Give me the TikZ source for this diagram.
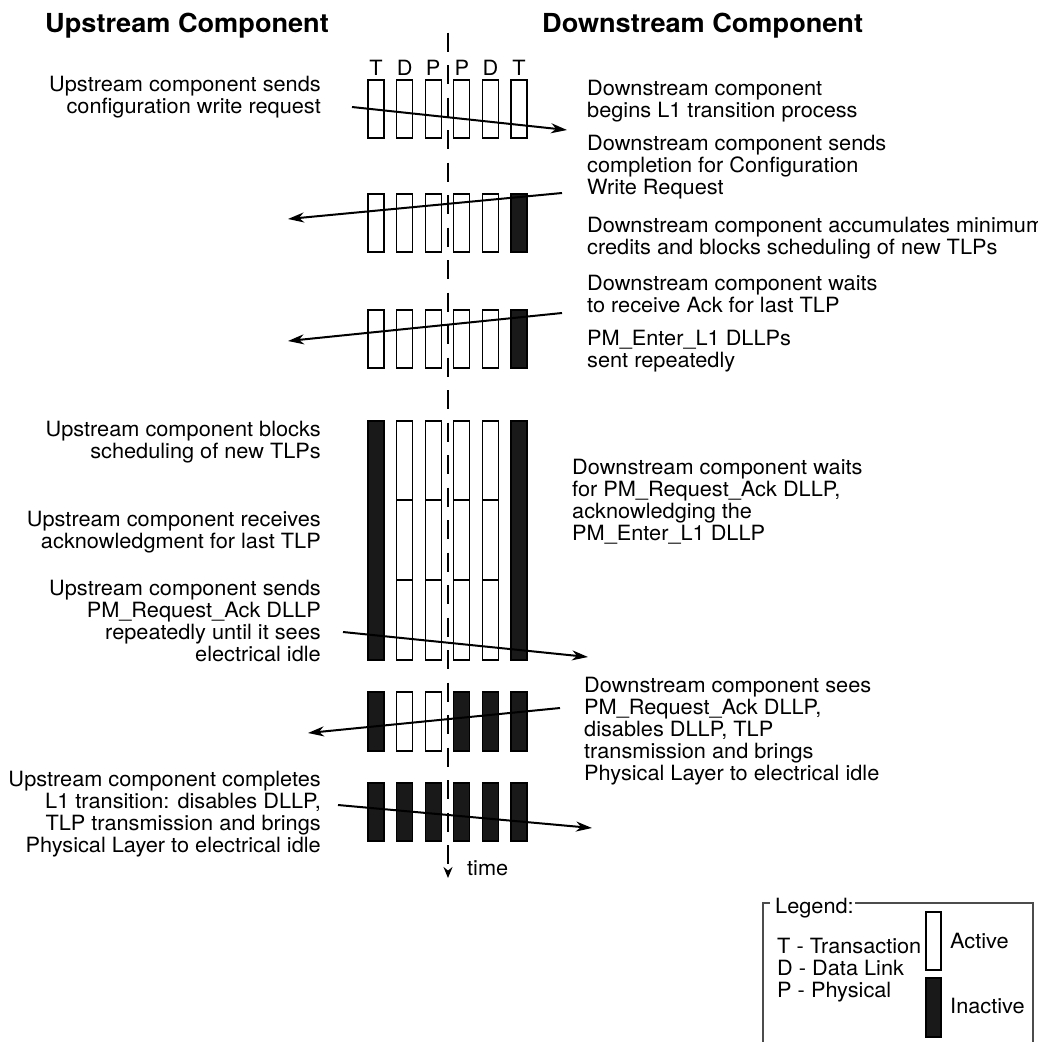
\documentclass[tikz,border=0pt]{standalone}
\usepackage{fontspec}
\setmainfont{TeX Gyre Heros}[FakeStretch=1.035]
\usepackage{tikz}
\usetikzlibrary{arrows.meta}

\tikzset{
  note/.style={font=\fontsize{21}{22}\selectfont, inner sep=0pt},
  lnote/.style={note, anchor=north east, align=right},
  rnote/.style={note, anchor=north west, align=left},
  head/.style={font=\fontsize{26.2}{30}\selectfont\bfseries, inner sep=0pt, anchor=north west},
  on/.style={draw, fill=white, line width=1.2pt},
  off/.style={draw, fill=black!90, line width=1.2pt},
  msg/.style={line width=2pt, -{Stealth[length=16pt,width=10pt,inset=5pt]}},
  frame/.style={line width=1.1pt, black!70},
}

\begin{document}
\begin{tikzpicture}[x=1pt,y=-1pt]
\useasboundingbox (0,0) rectangle (1038,1042);

%% Headings
\node[head] (uphead) at (45,13) {Upstream Component};
\node[head] (dnhead) at (542,13) {Downstream Component};

%% Layer letters
\foreach \i/\lbl in {0/T,1/D,2/P,3/P,4/D,5/T}
  \node[note, anchor=base] (lay\i) at ({376+28.6*\i},75) {\lbl};

%% Time axis
\coordinate (t0) at (448,32.5);
\coordinate (t1) at (448,878);
\draw[line width=2pt, dash pattern=on 19pt off 13.5pt,
      -{Stealth[length=11pt,width=9pt]}] (t0) -- (t1);
\node[note, anchor=base west] (time) at (467,875) {time};

%% Layer bars, all drawn active first
\foreach \top/\bot in {80/138,194/252,310/368,421/660,692/751,783/841}
  \foreach \i in {0,...,5}
    \draw[on] ({368+28.6*\i},\top) rectangle ({384+28.6*\i},\bot);

%% Inactive layers
\foreach \top/\bot/\i in {194/252/5, 310/368/5,
                          421/660/0, 421/660/5,
                          692/751/0, 692/751/3, 692/751/4, 692/751/5,
                          783/841/0, 783/841/1, 783/841/2,
                          783/841/3, 783/841/4, 783/841/5}
  \draw[off] ({368+28.6*\i},\top) rectangle ({384+28.6*\i},\bot);

%% Dividers in the long wait
\foreach \i in {1,...,4}
  \foreach \y in {500,580}
    \draw[line width=1.2pt] ({368+28.6*\i},\y) -- ({384+28.6*\i},\y);

%% Messages
\coordinate (m1a) at (352,107);  \coordinate (m1b) at (567,130);
\coordinate (m2a) at (562,193);  \coordinate (m2b) at (288,219);
\coordinate (m3a) at (562,313);  \coordinate (m3b) at (288,341);
\coordinate (m4a) at (343,632);  \coordinate (m4b) at (588,657);
\coordinate (m5a) at (560,708);  \coordinate (m5b) at (308,733);
\coordinate (m6a) at (338,805);  \coordinate (m6b) at (592,828);
\foreach \k in {1,...,6}
  \draw[msg] (m\k a) -- (m\k b);

%% Upstream side
\node[lnote] (up1) at (321,76) {Upstream component sends\\configuration write request};
\node[lnote] (up2) at (321,421) {Upstream component blocks\\scheduling of new TLPs};
\node[lnote] (up3) at (321,511) {Upstream component receives\\acknowledgment for last TLP};
\node[lnote] (up4) at (321,580) {Upstream component sends\\PM\_Request\_Ack DLLP\\repeatedly until it sees\\electrical idle};
\node[lnote] (up5) at (321,771) {Upstream component completes\\L1 transition: disables DLLP,\\TLP transmission and brings\\Physical Layer to electrical idle};

%% Downstream side
\node[rnote] (dn1) at (587,80) {Downstream component\\begins L1 transition process};
\node[rnote] (dn2) at (587,135) {Downstream component sends\\completion for Configuration\\Write Request};
\node[rnote] (dn3) at (587,217) {Downstream component accumulates minimum\\credits and blocks scheduling of new TLPs};
\node[rnote] (dn4) at (587,275) {Downstream component waits\\to receive Ack for last TLP};
\node[rnote] (dn5) at (587,330) {PM\_Enter\_L1 DLLPs\\sent repeatedly};
\node[rnote] (dn6) at (572,459) {Downstream component waits\\for PM\_Request\_Ack DLLP,\\acknowledging the\\PM\_Enter\_L1 DLLP};
\node[rnote] (dn7) at (584,677) {Downstream component sees\\PM\_Request\_Ack DLLP,\\disables DLLP, TLP\\transmission and brings\\Physical Layer to electrical idle};

%% Legend
\draw[frame] (770,903) -- (763,903) -- (763,1050);
\draw[frame] (855,903) -- (1033,903) -- (1033,1050);
\node[note, anchor=base west] (leglbl) at (775,913) {Legend:};
\node[note, anchor=north west, align=left]
  (legkeys) at (777,938) {T - Transaction\\D - Data Link\\P - Physical};
\draw[on] (926,912) rectangle (941,970);
\draw[off] (926,978) rectangle (941,1037);
\node[note, anchor=north west] (legact) at (950,933) {Active};
\node[note, anchor=north west] (leginact) at (950,998) {Inactive};

\end{tikzpicture}
\end{document}
